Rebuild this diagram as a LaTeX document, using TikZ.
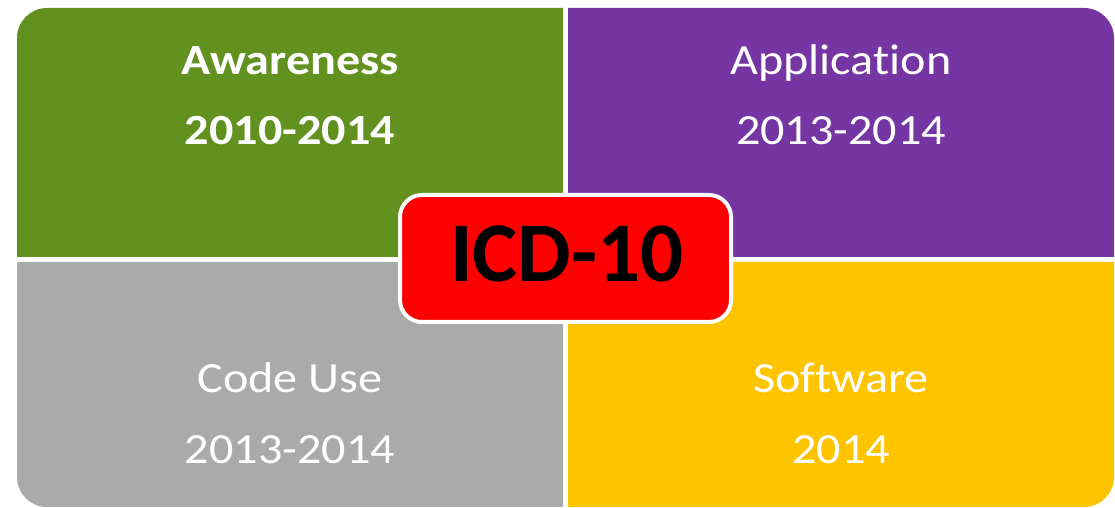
\documentclass[tikz,border=0pt]{standalone}
\usepackage{fontspec}
\setmainfont{Carlito}[Ligatures=NoCommon]
\newfontfamily\widefont{Carlito}[Ligatures=NoCommon,FakeStretch=1.12]
\definecolor{qgreen}{HTML}{62911F}
\definecolor{qpurple}{HTML}{7535A3}
\definecolor{qgray}{HTML}{AAAAAA}
\definecolor{qyellow}{HTML}{FFC400}
\definecolor{qred}{HTML}{FF0000}
\begin{document}
\begin{tikzpicture}[x=1pt,y=1pt,
  lbl/.style={text=white,font=\widefont\fontsize{43}{50}\selectfont,anchor=base,inner sep=0pt},
  lblb/.style={lbl,font=\widefont\fontsize{43}{50}\selectfont\bfseries},
  centerbox/.style={fill=qred,draw=white,line width=4pt,rounded corners=22pt,minimum width=331pt,minimum height=127pt,inner sep=0pt}]
\useasboundingbox (0,0) rectangle (1115,508);
\fill[white] (0,0) rectangle (1115,508);
% green top-left
\fill[qgreen] (17,251) -- (17,470) arc[start angle=180,end angle=90,radius=30] -- (563,500) -- (563,251) -- cycle;
% purple top-right
\fill[qpurple] (568,251) -- (568,500) -- (1084,500) arc[start angle=90,end angle=0,radius=30] -- (1114,251) -- cycle;
% gray bottom-left
\fill[qgray] (17,246) -- (17,31) arc[start angle=180,end angle=270,radius=30] -- (563,1) -- (563,246) -- cycle;
% yellow bottom-right
\fill[qyellow] (568,246) -- (568,1) -- (1084,1) arc[start angle=270,end angle=360,radius=30] -- (1114,246) -- cycle;
% texts
\node[lblb] (aw) at (290,433) {Awareness};
\node[lblb] (awy) at (290,363) {2010-2014};
\node[lbl] (ap) at (841,433) {Application};
\node[lbl] (apy) at (841,363) {2013-2014};
\node[lbl] (cu) at (290,115) {Code Use};
\node[lbl] (cuy) at (290,44) {2013-2014};
\node[lbl] (sw) at (841,115) {Software};
\node[lbl] (swy) at (841,44) {2014};
% center
\node[centerbox] (icd) at (565.5,249.5) {};
\node[anchor=base,inner sep=0pt,font=\fontsize{85}{90}\selectfont\bfseries] (icdt) at (567,226) {ICD-10};
\end{tikzpicture}
\end{document}
